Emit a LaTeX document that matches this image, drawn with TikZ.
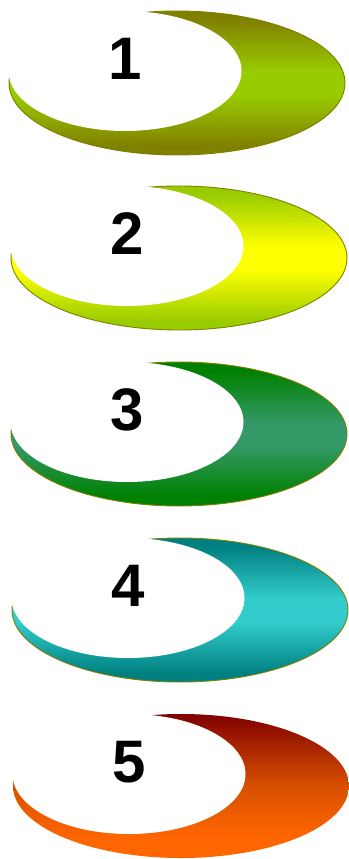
\documentclass[tikz,border=0pt]{standalone}
\usepackage{fontspec}
\setmainfont{Liberation Sans}
\definecolor{crolive}{RGB}{128,128,0}
\definecolor{crlime}{RGB}{153,204,0}
\definecolor{cryellow}{RGB}{255,255,0}
\definecolor{crgreen}{RGB}{0,128,0}
\definecolor{crseagreen}{RGB}{51,153,102}
\definecolor{crteal}{RGB}{0,128,128}
\definecolor{crturquoise}{RGB}{51,204,204}
\definecolor{crmaroon}{RGB}{128,0,0}
\definecolor{crrust}{RGB}{215,80,0}
\definecolor{crorange}{RGB}{255,102,0}
% vertical band: #2 top, #3 middle, #4 bottom
\newcommand{\crband}[4]{%
    \pgfdeclareverticalshading{#1}{100bp}{color(0bp)=(#4); color(28bp)=(#4);
        color(46bp)=(#3); color(54bp)=(#3); color(72bp)=(#2); color(100bp)=(#2)}}
\crband{bandone}{crolive}{crlime}{crolive}
\crband{bandtwo}{crlime}{cryellow}{crlime}
\crband{bandthree}{crgreen}{crseagreen}{crgreen}
\crband{bandfour}{crteal}{crturquoise}{crteal}
\pgfdeclareverticalshading{bandfive}{100bp}{color(0bp)=(crorange); color(32bp)=(crorange);
    color(50bp)=(crrust); color(75bp)=(crmaroon); color(100bp)=(crmaroon)}

\begin{document}
\begin{tikzpicture}[
    x=1pt, y=-1pt,
    crescent/.style={line width=0.9pt},
    hole/.style={fill=white},
    number/.style={font=\fontsize{60}{60}\selectfont\bfseries, inner sep=0pt}
]
\useasboundingbox (0,0) rectangle (348,859);

% Crescents, top to bottom.
\foreach \i/\cx/\cy/\band/\edge in {
    1/177/83/bandone/crolive,
    2/179/258/bandtwo/crolive,
    3/179/434/bandthree/crolive,
    4/180/610/bandfour/crolive,
    5/181/786/bandfive/none} {
    \path[crescent, shading=\band, draw=\edge]
        (\cx,\cy) ellipse [x radius=168, y radius=72];
    \fill[hole] ({\cx-52},{\cy-12}) ellipse [x radius=116.5, y radius=60];
    \node[number] (n\i) at ({\cx-52},{\cy-24}) {\i};
}

\end{tikzpicture}
\end{document}
